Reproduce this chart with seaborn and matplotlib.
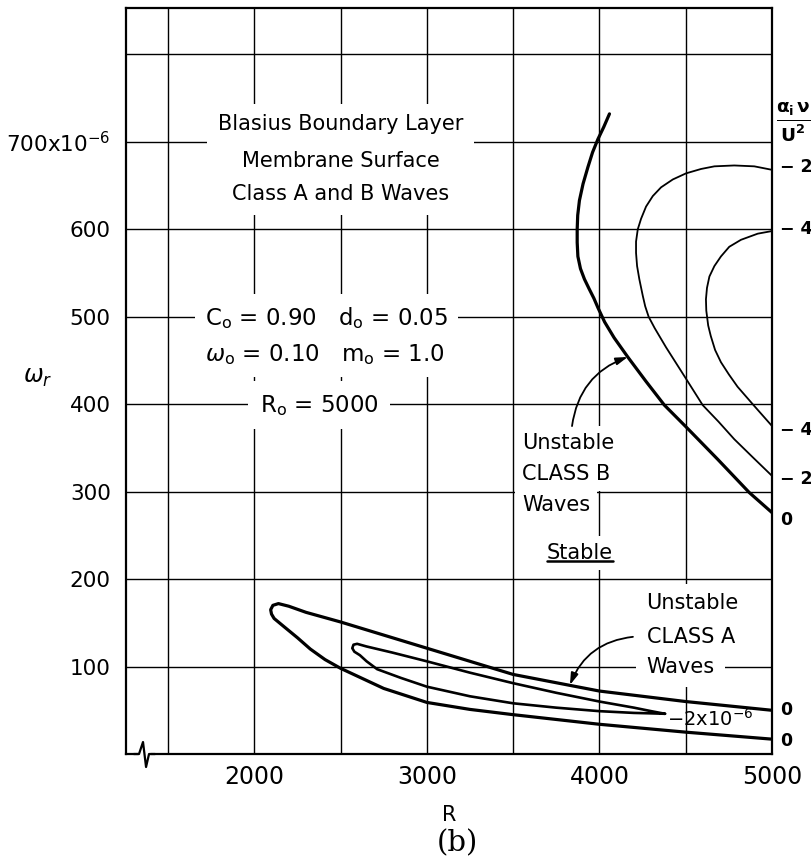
import matplotlib
matplotlib.use("Agg")
import matplotlib.pyplot as plt
import seaborn as sns
from matplotlib.lines import Line2D

# ---------------- data (omega_r in units of 1e-6) ----------------
classA_outer_R = [5000, 4500, 4000, 3500, 3000, 2750, 2500, 2300, 2200, 2140, 2108, 2095,
                  2100, 2115, 2170, 2250, 2325, 2410, 2500, 2750, 3000, 3250, 3500, 4000, 4500, 5000]
classA_outer_w = [50, 60, 72, 91, 121, 136, 151, 162, 169, 172, 170, 165,
                  160, 155, 146, 133, 120, 108, 98, 75, 59, 51, 45, 34, 25, 17]

classA_inner_R = [4380, 4300, 4200, 4000, 3750, 3500, 3250, 3000, 2800, 2650, 2596, 2575, 2568,
                  2580, 2612, 2651, 2712, 2850, 3000, 3250, 3500, 3750, 4000, 4200, 4300, 4380]
classA_inner_w = [46, 49, 53, 60, 70, 81, 93, 106, 116, 123, 126, 125, 121,
                  117, 113, 106, 97, 87, 77, 66, 58, 53, 49, 47, 46.5, 46]

classB_0_R = [4058, 4025, 3991, 3960, 3933, 3905, 3884, 3874, 3871, 3871, 3875, 3890, 3913,
              3940, 3968, 3992, 4030, 4085, 4164, 4270, 4376, 4502, 4685, 4868, 5000]
classB_0_w = [732, 717, 703, 688, 671, 652, 633, 616, 600, 585, 569, 555, 543,
              532, 521, 510, 494, 476, 454, 426, 399, 374, 337, 299, 276]

classB_m2_R = [5000, 4897, 4781, 4666, 4589, 4502, 4425, 4357, 4309, 4270, 4241, 4222, 4212,
               4212, 4218, 4231, 4251, 4265, 4285, 4320, 4386, 4502, 4598, 4690, 4781, 4890, 5000]
classB_m2_w = [668, 672, 673, 672, 669, 664, 657, 648, 638, 626, 612, 600, 586,
               573, 558, 543, 524, 512, 500, 487, 465, 429, 399, 380, 360, 339, 318]

classB_m4_R = [5000, 4917, 4820, 4752, 4704, 4666, 4637, 4623, 4617, 4619, 4630, 4645, 4670,
               4704, 4750, 4800, 4897, 5000]
classB_m4_w = [598, 595, 588, 580, 569, 558, 546, 533, 520, 507, 490, 478, 462,
               448, 434, 420, 398, 375]

x_ticks = [1500, 2000, 2500, 3000, 3500, 4000, 4500, 5000]
x_tick_labels = ['', '2000', '', '3000', '', '4000', '', '5000']
y_ticks = [100, 200, 300, 400, 500, 600, 700, 800]
y_tick_labels = ['100', '200', '300', '400', '500', '600', '700x10$^{-6}$', '']

right_label_text = ['\u2212 2', '\u2212 4', '\u2212 4', '\u2212 2', '0', '0', '0']
right_label_w = [671, 600, 370, 314, 268, 50, 15]

# ---------------- style ----------------
sns.set_style("white")
plt.rcParams['font.family'] = ['DejaVu Sans']
plt.rcParams['mathtext.fontset'] = 'dejavusans'
plt.rcParams['text.color'] = 'black'
plt.rcParams['axes.labelcolor'] = 'black'
plt.rcParams['xtick.color'] = 'black'
plt.rcParams['ytick.color'] = 'black'

fig = plt.figure(figsize=(8.12, 8.65), dpi=100)
ax = fig.add_axes([0.1552, 0.1283, 0.7956, 0.8624])

ax.set_xlim(1257, 5000)
ax.set_ylim(0, 853)
ax.set_xticks(x_ticks)
ax.set_xticklabels(x_tick_labels, fontsize=17)
ax.set_yticks(y_ticks)
ax.set_yticklabels(y_tick_labels, fontsize=15.5)
ax.tick_params(axis='both', length=0, colors='black')
ax.tick_params(axis='x', pad=8)
ax.tick_params(axis='y', pad=11)
ax.grid(True, color='black', linewidth=1.0)
ax.set_axisbelow(True)
for sp in ax.spines.values():
    sp.set_color('black')
    sp.set_linewidth(1.6)

# ---------------- curves ----------------
def curve(R, w, lw):
    sns.lineplot(x=R, y=w, sort=False, estimator=None, color='black',
                 linewidth=lw, ax=ax, zorder=4)

curve(classA_outer_R, classA_outer_w, 2.3)
curve(classA_inner_R, classA_inner_w, 1.9)
curve(classB_0_R, classB_0_w, 2.3)
curve(classB_m2_R, classB_m2_w, 1.3)
curve(classB_m4_R, classB_m4_w, 1.3)

# ---------------- annotation texts ----------------
def boxed(x, y, s, size, pad=0.5, ha='center', **kw):
    return ax.text(x, y, s, fontsize=size, ha=ha, va='center', zorder=3, color='black',
                   bbox=dict(boxstyle=f'square,pad={pad}', fc='white', ec='none'), **kw)

boxed(2500, 720, 'Blasius Boundary Layer', 15, pad=0.5)
boxed(2500, 678, 'Membrane Surface', 15, pad=0.5)
boxed(2500, 640, 'Class A and B Waves', 15, pad=0.5)

boxed(1715, 499, r'C$_\mathregular{o}$ = 0.90   d$_\mathregular{o}$ = 0.05', 16.5, pad=0.45, ha='left')
boxed(1715, 457, r'$\omega_\mathregular{o}$ = 0.10   m$_\mathregular{o}$ = 1.0', 16.5, pad=0.45, ha='left')
boxed(2376, 399, r'R$_\mathregular{o}$ = 5000', 16.5, pad=0.5)

boxed(3551, 356, 'Unstable', 15, pad=0.33, ha='left')
boxed(3551, 320, 'CLASS B', 15, pad=0.33, ha='left')
boxed(3551, 285, 'Waves', 15, pad=0.33, ha='left')
stable = boxed(3887, 230, 'Stable', 15, pad=0.33)

boxed(4273, 173, 'Unstable', 15, pad=0.4, ha='left')
boxed(4273, 134, 'CLASS A', 15, pad=0.4, ha='left')
boxed(4273, 100, 'Waves', 15, pad=0.5, ha='left')

ax.text(4390, 40, '\u22122x10$^{-6}$', fontsize=14, ha='left', va='center', zorder=5)

# arrows
ax.annotate('', xy=(3829, 79), xytext=(4194, 134), zorder=5,
            arrowprops=dict(arrowstyle='-|>,head_length=0.7,head_width=0.22',
                            connectionstyle='arc3,rad=0.3', color='black', lw=1.3,
                            shrinkA=0, shrinkB=0))
ax.annotate('', xy=(4164, 454), xytext=(3841, 375), zorder=5,
            arrowprops=dict(arrowstyle='-|>,head_length=0.7,head_width=0.22',
                            connectionstyle='arc3,rad=-0.3', color='black', lw=1.3,
                            shrinkA=0, shrinkB=0))

# right-hand contour labels
trans = ax.get_yaxis_transform()
for s, w in zip(right_label_text, right_label_w):
    ax.text(1.012, w, s, transform=trans, fontsize=12.5, ha='left', va='center',
            clip_on=False, fontweight='bold')
ax.text(1.034, 0.847, r'$\frac{\mathbf{\alpha_i\,\nu}}{\mathbf{U^2}}$', transform=ax.transAxes,
        fontsize=19, ha='center', va='center', clip_on=False)

# axis labels
ax.set_xlabel('R', fontsize=15)
ax.xaxis.set_label_coords(0.5, -0.068)
ax.set_ylabel(r'$\omega_r$', fontsize=17, rotation=0, ha='center', va='center')
ax.yaxis.set_label_coords(-0.136, 0.505)
fig.text(0.563, 0.0254, '(b)', fontsize=21, family='DejaVu Serif', ha='center', va='center')

# broken-axis mark on the bottom spine
ax.plot([0.019, 0.037], [0, 0], transform=ax.transAxes, color='white', lw=3.5,
        clip_on=False, zorder=6, solid_capstyle='butt')
ax.plot([0.012, 0.0201, 0.0263, 0.031, 0.0356, 0.045], [0, 0, 0.0161, -0.0174, 0, 0],
        transform=ax.transAxes, color='black', lw=1.6, clip_on=False, zorder=7)

# underline "Stable"
fig.canvas.draw()
bb = stable.get_window_extent(fig.canvas.get_renderer())
inv = fig.transFigure.inverted()
(x0, y0), (x1, _) = inv.transform([(bb.x0, bb.y0 + 1.5), (bb.x1, bb.y0 + 1.5)])
fig.add_artist(Line2D([x0, x1], [y0, y0], color='black', lw=1.8, transform=fig.transFigure, zorder=6))

fig.savefig('out.png', dpi=100)
